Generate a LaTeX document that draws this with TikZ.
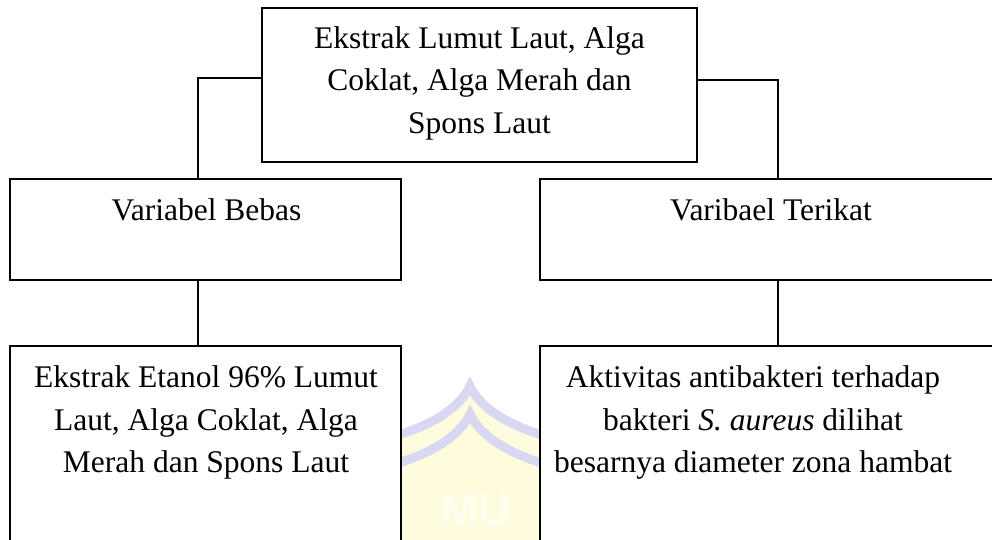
\documentclass[tikz,border=0pt]{standalone}
\usepackage{fontspec}
\setmainfont{Liberation Serif}
\newfontfamily\wmfont{Liberation Sans}
\definecolor{wmyellow}{RGB}{255,252,222}
\definecolor{wmlav}{RGB}{216,216,242}
\definecolor{wmletter}{RGB}{255,254,240}
\begin{document}
\begin{tikzpicture}[x=1pt,y=-1pt,
  box/.style={draw=black,line width=1.3pt,fill=white,rectangle,inner sep=0pt},
  txt/.style={anchor=north,inner sep=0pt,align=center,font=\fontsize{31.5}{42.5}\selectfont},
  link/.style={draw=black,line width=1.3pt}]
\clip (0,0) rectangle (992,540);
\fill[white] (0,0) rectangle (992,540);
% watermark
\fill[wmyellow] (380,445) .. controls (430,430) and (460,410) .. (470,383)
  .. controls (480,410) and (510,430) .. (560,445) -- (560,540) -- (380,540) -- cycle;
\draw[wmlav,line width=9pt] (380,440) .. controls (430,428) and (460,408) .. (470,386)
  .. controls (480,408) and (510,428) .. (560,440);
\draw[wmlav,line width=9pt] (380,468) .. controls (430,456) and (460,436) .. (470,414)
  .. controls (480,436) and (510,456) .. (560,468);
\node[anchor=north,inner sep=0pt,text=wmletter,font=\wmfont\bfseries\fontsize{46}{48}\selectfont] (wm) at (476,494) {MU};
% boxes
\node[box,minimum width=435pt,minimum height=154pt] (top) at (479.5,85) {};
\node[box,minimum width=391pt,minimum height=101pt] (midL) at (205.5,229.5) {};
\node[box,minimum width=474pt,minimum height=101pt] (midR) at (777,229.5) {};
\node[box,minimum width=391pt,minimum height=214pt] (botL) at (205.5,453) {};
\node[box,minimum width=474pt,minimum height=214pt] (botR) at (777,453) {};
% texts
\node[txt] (ttop) at (479.5,26) {Ekstrak Lumut Laut, Alga\\Coklat, Alga Merah dan\\Spons Laut};
\node[txt] (tmidL) at (206.5,198.5) {Variabel Bebas};
\node[txt] (tmidR) at (771,198.5) {Varibael Terikat};
\node[txt] (tbotL) at (206,365.5) {Ekstrak Etanol 96\% Lumut\\Laut, Alga Coklat, Alga\\Merah dan Spons Laut};
\node[txt] (tbotR) at (753,365.5) {Aktivitas antibakteri terhadap\\bakteri \textit{S. aureus} dilihat\\besarnya diameter zona hambat};
% connectors
\coordinate (jl) at (198,78);
\coordinate (jr) at (778,80);
\draw[link] (top.west |- jl) -- (jl) -- (jl |- midL.north);
\draw[link] (top.east |- jr) -- (jr) -- (jr |- midR.north);
\draw[link] (jl |- midL.south) -- (jl |- botL.north);
\draw[link] (jr |- midR.south) -- (jr |- botR.north);
\end{tikzpicture}
\end{document}
